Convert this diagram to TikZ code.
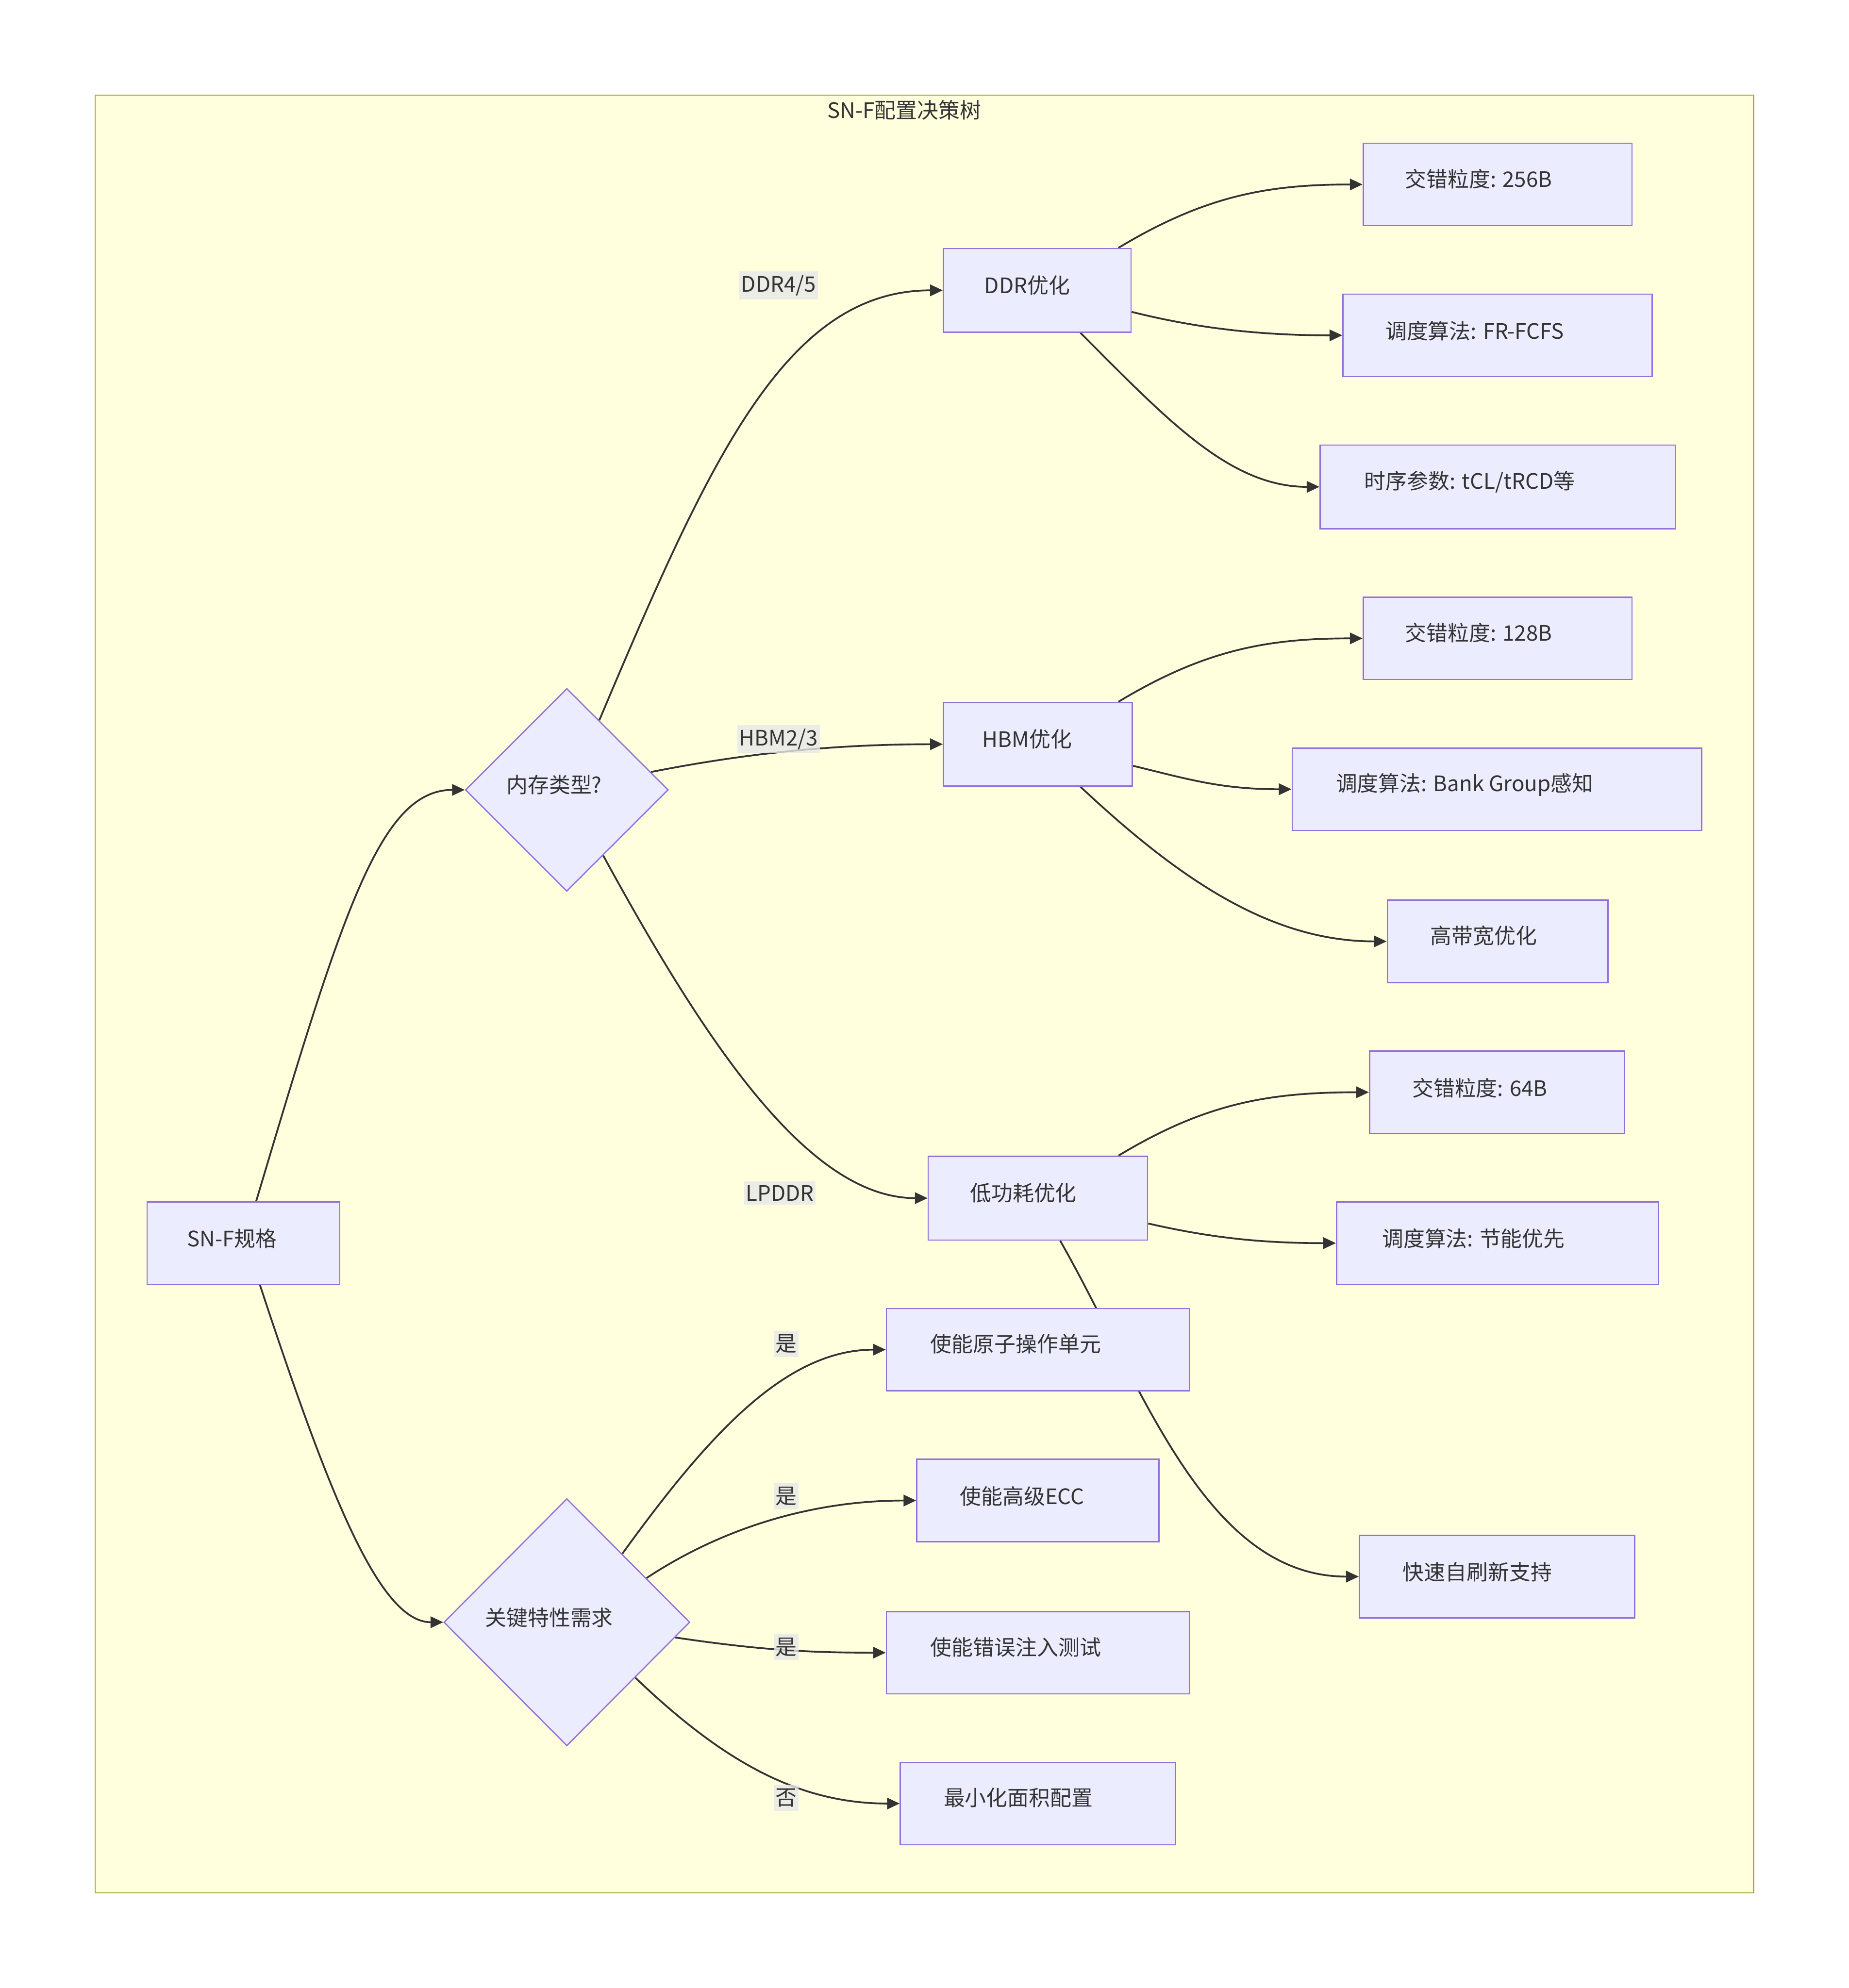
\documentclass[tikz,border=0pt]{standalone}
\usepackage{fontspec}
\setmainfont{Noto Sans CJK SC}
\usetikzlibrary{shapes.geometric,arrows.meta,calc}
\pgfdeclarelayer{clusterlayer}
\pgfdeclarelayer{edgelayer}
\pgfsetlayers{clusterlayer,edgelayer,main}
\definecolor{nodefill}{HTML}{ECECFF}
\definecolor{nodeline}{HTML}{9370DB}
\definecolor{clusterfill}{HTML}{FFFFDE}
\definecolor{clusterline}{HTML}{AAAA33}
\definecolor{edgecol}{HTML}{333333}
\definecolor{txtcol}{HTML}{333333}
\definecolor{lblbg}{HTML}{E8E8E8}
\begin{document}
\begin{tikzpicture}[x=1pt,y=-1pt,
 box/.style={draw=nodeline, fill=nodefill, line width=1pt, rectangle, inner sep=0pt},
 dia/.style={draw=nodeline, fill=nodefill, line width=1pt, diamond, aspect=1, inner sep=0pt},
 txt/.style={text=txtcol, font=\fontsize{16.8}{20}\selectfont, inner sep=0pt},
 lbl/.style={txt, fill=lblbg, fill opacity=0.8, text opacity=1, inner xsep=1.5pt, inner ysep=3pt},
 edge/.style={draw=edgecol, line width=1.4pt, -{Triangle[length=10pt,width=9pt]}}]
\useasboundingbox (0,0) rectangle (1458,1568);
\begin{pgfonlayer}{clusterlayer}
\fill[white] (0,0) rectangle (1458,1568);
\draw[draw=clusterline, fill=clusterfill, line width=1pt] (75,75) rectangle (1383,1493);
\end{pgfonlayer}
\node[txt] (title) at (713,87) {SN-F配置决策树};

% node shapes
\node[box, minimum width=152pt, minimum height=65pt] (snf) at (192,980.5) {};
\node[dia, minimum width=160pt, minimum height=160pt] (mem) at (447,623) {};
\node[dia, minimum width=194pt, minimum height=195pt] (key) at (447,1279.5) {};
\node[box, minimum width=148pt, minimum height=66pt] (ddr) at (818,229) {};
\node[box, minimum width=149pt, minimum height=66pt] (hbm) at (818.5,587) {};
\node[box, minimum width=173pt, minimum height=66pt] (lp) at (818.5,945) {};
\node[box, minimum width=212pt, minimum height=65pt] (g256) at (1181,145.5) {};
\node[box, minimum width=244pt, minimum height=65pt] (frf) at (1181,264.5) {};
\node[box, minimum width=280pt, minimum height=66pt] (tim) at (1181,384) {};
\node[box, minimum width=212pt, minimum height=65pt] (g128) at (1181,503.5) {};
\node[box, minimum width=323pt, minimum height=65pt] (bgs) at (1180.5,622.5) {};
\node[box, minimum width=174pt, minimum height=65pt] (hbw) at (1181,742.5) {};
\node[box, minimum width=201pt, minimum height=65pt] (g64) at (1180.5,861.5) {};
\node[box, minimum width=254pt, minimum height=65pt] (eng) at (1181,980.5) {};
\node[box, minimum width=217pt, minimum height=65pt] (sr) at (1180.5,1243.5) {};
\node[box, minimum width=239pt, minimum height=65pt] (atom) at (818.5,1064.5) {};
\node[box, minimum width=191pt, minimum height=65pt] (ecc) at (818.5,1183.5) {};
\node[box, minimum width=239pt, minimum height=65pt] (inj) at (818.5,1303.5) {};
\node[box, minimum width=217pt, minimum height=65pt] (area) at (818.5,1422.5) {};

% edges, drawn under the node shapes
\begin{pgfonlayer}{edgelayer}
\path[edge] ([xshift=10pt]snf.north) .. controls +(68,-228) and +(-67,0) .. (mem.west);
\path[edge] ([xshift=13pt]snf.south) .. controls +(55,167) and +(-50,0) .. (key.west);
\path[edge] (mem.65.5) .. controls +(87,-206) and +(-124,0) .. (ddr.west);
\path[edge] (mem.12.6) .. controls +(66,-13) and +(-94,0) .. (hbm.west);
\path[edge] (mem.-61.3) .. controls +(84,154) and +(-92,0) .. (lp.west);
\path[edge] ([xshift=64pt]ddr.north) .. controls +(68,-41) and +(-75,0) .. (g256.west);
\path[edge] ([yshift=-17pt]ddr.east) .. controls +(48,12) and +(-69,0) .. (frf.west);
\path[edge] ([xshift=34pt]ddr.south) .. controls +(68,68) and +(-71,0) .. (tim.west);
\path[edge] ([xshift=63.5pt]hbm.north) .. controls +(68,-41) and +(-75,0) .. (g128.west);
\path[edge] ([yshift=-17pt]hbm.east) .. controls +(45,11) and +(-55,0) .. (bgs.west);
\path[edge] ([xshift=33.5pt]hbm.south) .. controls +(80,75) and +(-90,0) .. (hbw.west);
\path[edge] ([xshift=63.5pt]lp.north) .. controls +(68,-41) and +(-80,0) .. (g64.west);
\path[edge] ([yshift=-20pt]lp.east) .. controls +(48,11) and +(-60,0) .. (eng.west);
\path[edge] ([xshift=17.5pt]lp.south) .. controls +(64,112) and +(-122,0) .. (sr.west);
\path[edge] (key.51) .. controls +(68,-94) and +(-79,0) .. (atom.west);
\path[edge] (key.29) .. controls +(59,-39) and +(-83,0) .. (ecc.west);
\path[edge] (key.-8.3) .. controls +(67,10) and +(-60,0) .. (inj.west);
\path[edge] (key.-39.5) .. controls +(69,66) and +(-80,0) .. (area.west);
\end{pgfonlayer}

% edge labels
\node[lbl] (l1) at (614,225) {DDR4/5};
\node[lbl] (l2) at (614,583) {HBM2/3};
\node[lbl] (l3) at (615,941) {LPDDR};
\node[lbl] (l4) at (620,1060) {是};
\node[lbl] (l5) at (620,1180) {是};
\node[lbl] (l6) at (620,1299) {是};
\node[lbl] (l7) at (620,1418) {否};

% node texts
\node[txt] (t-snf) at (183,977) {SN-F规格};
\node[txt] (t-mem) at (437,619) {内存类型?};
\node[txt] (t-key) at (433,1276) {关键特性需求};
\node[txt] (t-ddr) at (810,225) {DDR优化};
\node[txt] (t-hbm) at (810,583) {HBM优化};
\node[txt] (t-lp) at (807,941) {低功耗优化};
\node[txt] (t-g256) at (1166,141) {交错粒度: 256B};
\node[txt] (t-frf) at (1163,261) {调度算法: FR-FCFS};
\node[txt] (t-tim) at (1159,380) {时序参数: tCL/tRCD等};
\node[txt] (t-g128) at (1166,499) {交错粒度: 128B};
\node[txt] (t-bgs) at (1155,619) {调度算法: Bank Group感知};
\node[txt] (t-hbw) at (1170,738) {高带宽优化};
\node[txt] (t-g64) at (1167,858) {交错粒度: 64B};
\node[txt] (t-eng) at (1162,977) {调度算法: 节能优先};
\node[txt] (t-sr) at (1165,1240) {快速自刷新支持};
\node[txt] (t-atom) at (801,1060) {使能原子操作单元};
\node[txt] (t-ecc) at (806,1180) {使能高级ECC};
\node[txt] (t-inj) at (801,1299) {使能错误注入测试};
\node[txt] (t-area) at (803,1418) {最小化面积配置};
\end{tikzpicture}
\end{document}
